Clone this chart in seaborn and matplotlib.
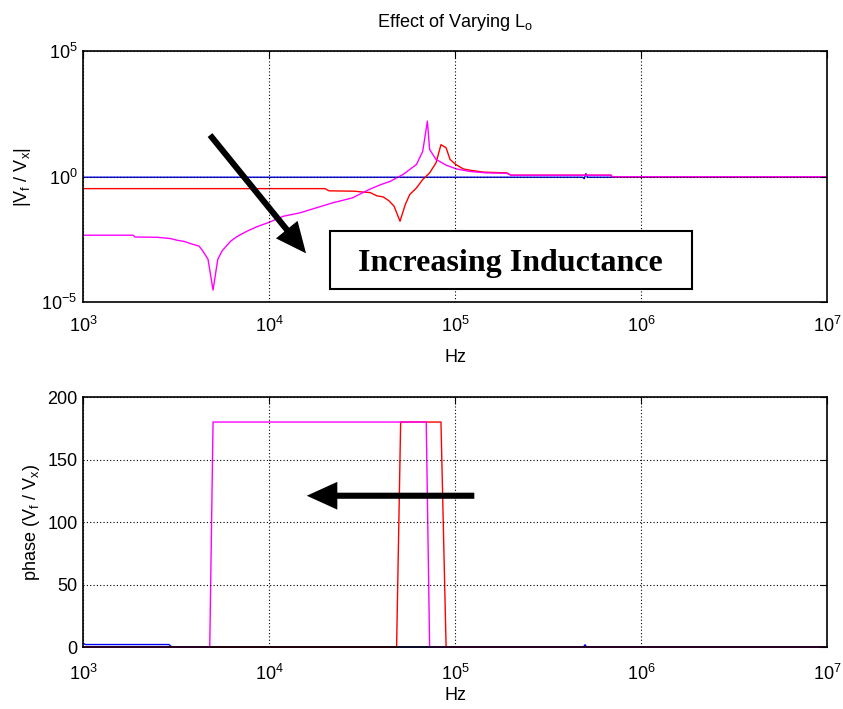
import matplotlib
matplotlib.use("Agg")
import matplotlib.pyplot as plt
from matplotlib.patches import Rectangle
from matplotlib.ticker import NullLocator, FixedLocator
import pandas as pd
import seaborn as sns

# Frequency response of V_f / V_x for three output inductances
CASES = ["L_o low", "L_o mid", "L_o high"]
COLORS = {"L_o low": "#0000ff", "L_o mid": "#ff0000", "L_o high": "#ff00ff"}

# magnitude |V_f / V_x|
low_mag_freq = [1e3, 4.85e5, 4.95e5, 5.05e5, 5.15e5, 1e7]
low_mag = [0.94, 0.94, 0.82, 1.3, 0.94, 0.94]

mid_mag_freq = [1e3, 2.0e4, 2.1e4, 2.9e4, 3.2e4, 3.5e4, 3.8e4, 4.1e4, 4.4e4, 4.7e4,
                5.06e4, 5.4e4, 5.7e4, 6.2e4, 6.7e4, 7.3e4, 7.9e4, 8.4e4, 8.95e4, 9.4e4,
                1.01e5, 1.11e5, 1.2e5, 1.42e5, 1.9e5, 2.0e5, 6.9e5, 7.0e5, 1e7]
mid_mag = [0.33, 0.33, 0.27, 0.26, 0.24, 0.23, 0.17, 0.155, 0.11, 0.066,
           0.0166, 0.076, 0.19, 0.35, 0.76, 1.4, 3.5, 18.6, 14.0, 4.8,
           3.0, 2.0, 1.8, 1.5, 1.4, 1.13, 1.13, 0.98, 0.98]

high_mag_freq = [1e3, 1.86e3, 1.9e3, 2.5e3, 2.94e3, 3.2e3, 3.5e3, 3.8e3, 4.2e3, 4.4e3,
                 4.7e3, 5.0e3, 5.3e3, 5.6e3, 6.2e3, 6.7e3, 7.6e3, 8.6e3, 1e4, 1.19e4,
                 1.47e4, 2.2e4, 2.8e4, 3.5e4, 4.0e4, 4.5e4, 4.85e4, 5.25e4, 5.7e4, 6.2e4,
                 6.7e4, 7.1e4, 7.3e4, 7.9e4, 9.0e4, 1.02e5, 1.2e5, 1.47e5, 1.9e5, 2.0e5,
                 6.9e5, 7.0e5, 1e7]
high_mag = [0.0046, 0.0046, 0.0039, 0.0038, 0.0034, 0.0029, 0.0026, 0.0021, 0.0017, 0.0011,
            5e-4, 3e-5, 5e-4, 0.0011, 0.0026, 0.004, 0.0066, 0.01, 0.015, 0.026,
            0.036, 0.09, 0.14, 0.32, 0.48, 0.65, 0.89, 1.2, 1.9, 3.0,
            10.0, 160.0, 12.0, 4.8, 2.8, 2.0, 1.6, 1.4, 1.35, 1.13,
            1.13, 0.98, 0.98]

# phase of V_f / V_x in degrees
low_ph_freq = [1e3, 1.03e3, 2.9e3, 3.0e3, 4.9e5, 5.0e5, 5.1e5, 1e7]
low_ph = [3.0, 2.0, 2.0, 0.0, 0.0, 1.8, 0.0, 0.0]

mid_ph_freq = [1e3, 4.85e4, 5.1e4, 8.4e4, 8.95e4, 1e7]
mid_ph = [0, 0, 180, 180, 0, 0]

high_ph_freq = [1e3, 4.8e3, 5.0e3, 7.0e4, 7.3e4, 1e7]
high_ph = [0, 0, 180, 180, 0, 0]

X_TICKS = [1e3, 1e4, 1e5, 1e6, 1e7]
MAG_TICKS = [1e-5, 1e0, 1e5]
PH_TICKS = [0, 50, 100, 150, 200]


def long_frame(parts, col):
    return pd.concat(
        [pd.DataFrame({"freq": f, col: v, "case": name}) for name, f, v in parts],
        ignore_index=True,
    )


mag_df = long_frame([(CASES[0], low_mag_freq, low_mag),
                     (CASES[1], mid_mag_freq, mid_mag),
                     (CASES[2], high_mag_freq, high_mag)], "mag")
ph_df = long_frame([(CASES[0], low_ph_freq, low_ph),
                    (CASES[1], mid_ph_freq, mid_ph),
                    (CASES[2], high_ph_freq, high_ph)], "phase")

sns.set_style("white")
plt.rcParams.update({
    "font.family": ["Liberation Sans", "DejaVu Sans"],
    "mathtext.fontset": "custom",
    "mathtext.rm": "Liberation Sans",
    "mathtext.it": "Liberation Sans:italic",
    "mathtext.bf": "Liberation Sans:bold",
    "axes.unicode_minus": False,
    "axes.edgecolor": "black",
    "axes.linewidth": 1.2,
    "text.color": "black",
    "axes.labelcolor": "black",
    "xtick.color": "black",
    "ytick.color": "black",
})

fig = plt.figure(figsize=(8.43, 7.09), dpi=100)
ax_mag = fig.add_axes([0.0985, 0.5740, 0.8826, 0.3540])
ax_ph = fig.add_axes([0.0985, 0.0874, 0.8826, 0.3526])

sns.lineplot(data=mag_df, x="freq", y="mag", hue="case", hue_order=CASES,
             palette=COLORS, estimator=None, sort=False, legend=False,
             lw=1.0, ax=ax_mag)
sns.lineplot(data=ph_df, x="freq", y="phase", hue="case", hue_order=CASES,
             palette=COLORS, estimator=None, sort=False, legend=False,
             lw=1.0, ax=ax_ph)
for ln in ax_ph.lines:
    ln.set_clip_on(False)

grid_style = dict(color="black", linestyle=(0, (1, 2)), linewidth=0.8)

ax_mag.set_xscale("log")
ax_mag.set_yscale("log")
ax_mag.set_xlim(1e3, 1e7)
ax_mag.set_ylim(1e-5, 1e5)
ax_mag.yaxis.set_major_locator(FixedLocator(MAG_TICKS))

ax_ph.set_xscale("log")
ax_ph.set_xlim(1e3, 1e7)
ax_ph.set_ylim(0, 200)
ax_ph.yaxis.set_major_locator(FixedLocator(PH_TICKS))

for ax in (ax_mag, ax_ph):
    ax.xaxis.set_major_locator(FixedLocator(X_TICKS))
    ax.xaxis.set_minor_locator(NullLocator())
    ax.yaxis.set_minor_locator(NullLocator())
    ax.tick_params(direction="in", top=True, right=True, length=5, width=0.8,
                   labelsize=13, pad=4, colors="black")
    ax.grid(True, which="major", **grid_style)
    ax.set_axisbelow(False)
    for s in ax.spines.values():
        s.set_visible(True)
        s.set_color("black")

ax_mag.tick_params(axis="x", pad=10)
ax_ph.tick_params(axis="x", pad=12)
ax_mag.set_xlabel("Hz", fontsize=13, labelpad=9)
ax_ph.set_xlabel("Hz", fontsize=13, labelpad=2)

ax_mag.set_ylabel(r"|V$_\mathregular{f}$ / V$_\mathregular{x}$|", fontsize=13, labelpad=6)
ax_ph.set_ylabel(r"phase (V$_\mathregular{f}$ / V$_\mathregular{x}$)", fontsize=13, labelpad=4)
ax_mag.set_title(r"Effect of Varying L$_\mathregular{o}$", fontsize=13, pad=17)

arrow = dict(arrowstyle="simple,head_length=1.1,head_width=1.0,tail_width=0.22",
             mutation_scale=20, fc="black", ec="black", lw=0, shrinkA=0, shrinkB=0)
ax_mag.annotate("", xy=(0.2997, 0.194), xytext=(0.1707, 0.6653),
                xycoords="axes fraction", textcoords="axes fraction", arrowprops=arrow)
ax_ph.annotate("", xy=(0.3007, 0.6052), xytext=(0.5259, 0.6052),
               xycoords="axes fraction", textcoords="axes fraction", arrowprops=arrow)

ax_mag.add_patch(Rectangle((0.332, 0.0518), 0.4866, 0.2311, transform=ax_mag.transAxes,
                           fill=True, fc="white", ec="black", lw=1.5, clip_on=False, zorder=5))
ax_mag.text(0.575, 0.167, "Increasing Inductance", transform=ax_mag.transAxes,
            ha="center", va="center_baseline", fontsize=23, fontweight="bold",
            color="black", family=["Liberation Serif", "DejaVu Serif"], zorder=6)

fig.savefig("out.png", dpi=100, facecolor="white")
